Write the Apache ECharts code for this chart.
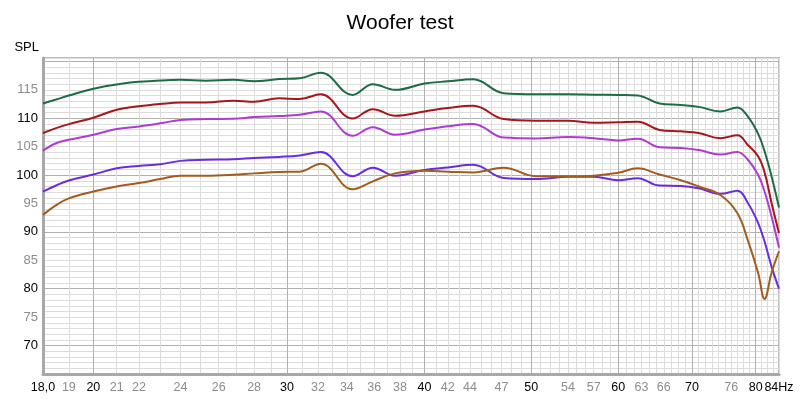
<!DOCTYPE html>
<html>
<head>
<meta charset="utf-8">
<title>Woofer test</title>
<script src="https://cdn.jsdelivr.net/npm/echarts@6/dist/echarts.min.js"></script>
<style>
  html, body { margin: 0; padding: 0; background: #fff; }
  #chart { width: 800px; height: 399px; }
</style>
</head>
<body>
<div id="chart"></div>
<script>
  // frequencies (Hz) where the curves were read
  var freqs = [18, 18.5, 19, 20, 21, 22, 23, 24, 25.3, 26.8, 28, 29.5, 30.8, 32.2, 34.4, 35.9, 37.6, 40, 42, 44.3,
               47.2, 50.5, 54, 57, 60, 62.5, 65.4, 68.4, 71, 74.3, 77, 78.7, 80.4, 81.5, 82.7, 84];

  // SPL (dB) per curve, top to bottom
  var splGreen = [112.6, 113.3, 114.0, 115.2, 115.95, 116.4, 116.65, 116.76, 116.6, 116.76, 116.5, 116.9, 117.05, 118.0, 114.1, 116.0, 115.0, 116.1, 116.5, 116.85,
                  114.4, 114.2, 114.2, 114.15, 114.1, 114.0, 112.6, 112.35, 112.0, 111.2, 111.9, 110.3, 107.3, 104.2, 99.8, 94.3];
  var splRed = [107.4, 108.26, 108.97, 110.1, 111.5, 112.1, 112.5, 112.77, 112.77, 113.1, 112.9, 113.5, 113.4, 114.2, 109.95, 111.6, 110.45, 111.2, 111.8, 112.2,
                109.85, 109.55, 109.55, 109.2, 109.3, 109.4, 107.95, 107.7, 107.4, 106.5, 107.0, 105.3, 103.3, 100.5, 95.1, 89.8];
  var splMagenta = [104.3, 105.6, 106.2, 107.1, 108.1, 108.55, 109.1, 109.7, 109.85, 109.9, 110.2, 110.4, 110.6, 111.2, 106.9, 108.4, 107.1, 108.0, 108.6, 109.0,
                    106.6, 106.45, 106.7, 106.5, 106.1, 106.4, 104.9, 104.75, 104.4, 103.6, 104.05, 102.7, 100.05, 97.1, 92.7, 87.2];
  var splViolet = [97.1, 98.17, 99.05, 100.1, 101.2, 101.6, 101.9, 102.5, 102.7, 102.8, 103.0, 103.2, 103.45, 104.05, 99.8, 101.3, 99.9, 100.9, 101.35, 101.8,
                   99.5, 99.3, 99.7, 99.7, 99.1, 99.45, 98.15, 98.1, 97.7, 96.7, 97.25, 95.1, 91.6, 88.3, 83.9, 80.0];
  var splBrown = [93.0, 94.7, 95.9, 97.1, 98.0, 98.6, 99.3, 99.9, 99.9, 100.05, 100.3, 100.55, 100.6, 102.0, 97.5, 98.9, 100.3, 100.75, 100.6, 100.45,
                  101.3, 99.8, 99.8, 99.9, 100.4, 101.2, 100.1, 99.1, 98.0, 96.5, 93.3, 88.5, 82.8, 78.2, 82.8, 86.6];

  // x axis labels, black ones are the decades
  var xLabels = [18, 19, 20, 21, 22, 24, 26, 28, 30, 32, 34, 36, 38, 40, 42, 44, 47, 50, 54, 57, 60, 63, 66, 70, 76, 80, 84];
  var xBlack = [18, 20, 30, 40, 50, 60, 70, 80, 84];

  // vertical grid every 1 Hz, darker on 20, 30 ... 80
  var gridFreqs = [];
  for (var f = 18; f <= 84; f++) gridFreqs.push(f);
  var light = '#dcdcdc', dark = '#b0b0b0';
  var xGridColors = [light, light, dark, light, light, light, light, light, light, light];
  // horizontal grid every 1 dB from 65, darker on 70, 80 ...
  var yGridColors = [light, light, light, light, light, dark, light, light, light, light];

  function pairs(values) {
    return freqs.map(function (fr, i) { return [fr, values[i]]; });
  }

  var labelRich = {
    k: { color: '#000', fontFamily: 'Liberation Sans', fontSize: 12.5 },
    g: { color: '#8c8c8c', fontFamily: 'Liberation Sans', fontSize: 12.5 }
  };

  var chart = echarts.init(document.getElementById('chart'));
  chart.setOption({
    animation: false,
    backgroundColor: '#fff',
    textStyle: { fontFamily: 'Liberation Sans' },
    title: {
      text: 'Woofer test',
      left: 'center',
      top: 8,
      textStyle: { fontFamily: 'Liberation Sans', fontSize: 21, fontWeight: 'normal', color: '#000' }
    },
    grid: {
      left: 43, right: 21, top: 58, bottom: 25,
      show: true,
      borderColor: '#bdbdbd',
      borderWidth: 2
    },
    xAxis: {
      type: 'log',
      logBase: 10,
      min: 18,
      max: 84,
      axisLine: { show: true, lineStyle: { color: '#a8a8a8', width: 3 } },
      axisTick: { show: false, customValues: gridFreqs },
      axisLabel: {
        customValues: xLabels,
        margin: 7,
        rich: labelRich,
        formatter: function (v) {
          var n = Math.round(v);
          var txt = n === 18 ? '18,0' : (n === 84 ? '84Hz' : String(n));
          return (xBlack.indexOf(n) >= 0 ? '{k|' : '{g|') + txt + '}';
        }
      },
      splitLine: { show: true, lineStyle: { color: xGridColors, width: 1 } }
    },
    yAxis: {
      type: 'value',
      min: 65,
      max: 120.6,
      interval: 1,
      name: 'SPL',
      nameLocation: 'end',
      nameGap: 4,
      nameTextStyle: { color: '#000', fontFamily: 'Liberation Sans', fontSize: 13, align: 'right', padding: [0, 4, 0, 0] },
      axisLine: { show: true, lineStyle: { color: '#a8a8a8', width: 3 } },
      axisTick: { show: false },
      axisLabel: {
        margin: 5,
        rich: {
          k: { color: '#000', fontFamily: 'Liberation Sans', fontSize: 13 },
          g: { color: '#8c8c8c', fontFamily: 'Liberation Sans', fontSize: 13 }
        },
        formatter: function (v) {
          if (v % 5 !== 0 || v < 70 || v > 115) return '';
          return (v % 10 === 0 ? '{k|' : '{g|') + v + '}';
        }
      },
      splitLine: { show: true, lineStyle: { color: yGridColors, width: 1 } }
    },
    series: [
      { name: 'green', type: 'line', data: pairs(splGreen), color: '#1d6b47' },
      { name: 'red', type: 'line', data: pairs(splRed), color: '#a8151a' },
      { name: 'magenta', type: 'line', data: pairs(splMagenta), color: '#b03ad4' },
      { name: 'violet', type: 'line', data: pairs(splViolet), color: '#6a2ce0' },
      { name: 'brown', type: 'line', data: pairs(splBrown), color: '#a35c1e' }
    ].map(function (s) {
      s.smooth = 0.4;
      s.showSymbol = false;
      s.symbol = 'none';
      s.lineStyle = { width: 2 };
      return s;
    })
  });
</script>
</body>
</html>
